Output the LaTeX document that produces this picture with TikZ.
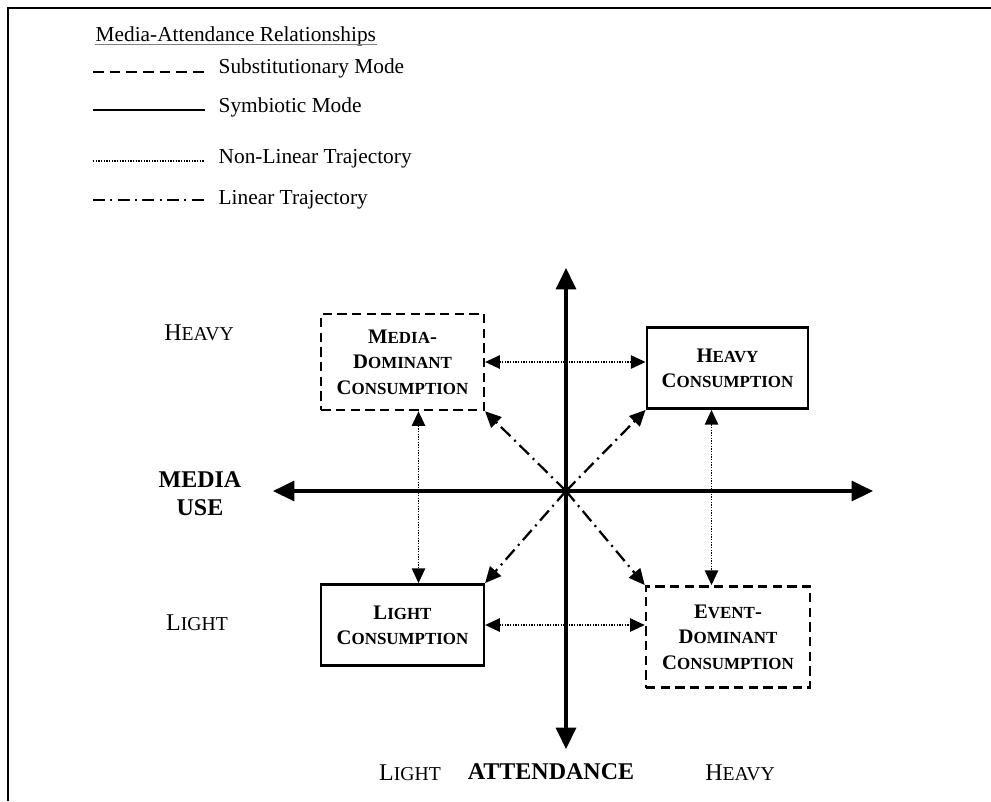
\documentclass[tikz,border=0pt]{standalone}
\usepackage{fontspec}
\setmainfont{Liberation Serif}
\usepackage{tikz}
\usetikzlibrary{arrows.meta}

% fake small capitals: first letter full size, the rest smaller
\makeatletter
\newcommand\fsc[2]{#1{\fontsize{\fpeval{0.82*\f@size}}{\f@baselineskip}\selectfont #2}}
\makeatother

\begin{document}
\begin{tikzpicture}[x=0.75pt,y=-0.75pt,
    quad/.style={draw, line width=1.9pt, align=center, inner sep=2pt,
      font=\fontsize{15.5}{19}\selectfont\bfseries},
    subst/.style={quad, dash pattern=on 7pt off 4pt},
    symb/.style={quad},
    axis/.style={line width=2.5pt, -{Triangle[length=16pt,width=15pt]}},
    nonlin/.style={line width=1.1pt, dash pattern=on 1pt off 1pt,
      {Triangle[length=11pt,width=10pt]}-{Triangle[length=11pt,width=10pt]}},
    lin/.style={line width=1.7pt, dash pattern=on 10pt off 4pt on 1.5pt off 4pt,
      -{Triangle[length=12pt,width=11pt]}},
    lbl/.style={font=\fontsize{18}{21}\selectfont},
    legtxt/.style={anchor=west, font=\fontsize{16}{19}\selectfont}]
  \useasboundingbox (0,0) rectangle (991,801);

  % page edge
  \draw[line width=1.5pt] (8,801) -- (8,8) -- (991,8);

  % Legend
  \node[anchor=west, font=\fontsize{16}{19}\selectfont] (legtitle) at (91,36)
    {Media-Attendance Relationships};
  \draw[gray, line width=1.2pt] ([xshift=3pt,yshift=-6.5pt]legtitle.west) -- ([xshift=-3pt,yshift=-6.5pt]legtitle.east);
  \coordinate (la1) at (93,72);  \coordinate (lb1) at (207,72);
  \coordinate (la2) at (93,110); \coordinate (lb2) at (205,110);
  \coordinate (la3) at (93,161); \coordinate (lb3) at (204,161);
  \coordinate (la4) at (93,200); \coordinate (lb4) at (205,200);
  \draw[line width=1.4pt, dash pattern=on 8pt off 4.5pt] (la1) -- (lb1);
  \draw[line width=1.4pt] (la2) -- (lb2);
  \draw[line width=0.8pt, dash pattern=on 1pt off 1pt] (la3) -- (lb3);
  \draw[line width=1.4pt, dash pattern=on 9pt off 4pt on 1.5pt off 4pt] (la4) -- (lb4);
  \node[legtxt] (l1) at (214,68) {Substitutionary Mode};
  \node[legtxt] (l2) at (214,107) {Symbiotic Mode};
  \node[legtxt] (l3) at (214,159) {Non-Linear Trajectory};
  \node[legtxt] (l4) at (214,200) {Linear Trajectory};

  % Axes
  \coordinate (o) at (566,491);
  \coordinate (ytop) at (566,268);
  \coordinate (ybot) at (566,749);
  \coordinate (xleft) at (273,491);
  \coordinate (xright) at (873,491);
  \draw[axis] (o) -- (ytop);
  \draw[axis] (o) -- (ybot);
  \draw[axis] (o) -- (xleft);
  \draw[axis] (o) -- (xright);

  % Quadrant boxes
  \node[subst, minimum width=122pt, minimum height=72pt] (md) at (402.5,362)
    {\fsc{M}{EDIA}-\\\fsc{D}{OMINANT}\\\fsc{C}{ONSUMPTION}};
  \node[symb, minimum width=121pt, minimum height=61pt] (hv) at (727.5,368)
    {\fsc{H}{EAVY}\\\fsc{C}{ONSUMPTION}};
  \node[symb, minimum width=122pt, minimum height=61pt] (lt) at (402.5,625)
    {\fsc{L}{IGHT}\\\fsc{C}{ONSUMPTION}};
  \node[subst, minimum width=123pt, minimum height=76pt] (ev) at (728,637)
    {\fsc{E}{VENT}-\\\fsc{D}{OMINANT}\\\fsc{C}{ONSUMPTION}};

  % Non-linear trajectories
  \draw[nonlin] (md.east) -- (md.east -| hv.west);
  \draw[nonlin] (lt.east) -- (lt.east -| ev.west);
  \draw[nonlin] ([xshift=12pt]md.south) -- ([xshift=12pt]md.south |- lt.north);
  \draw[nonlin] ([xshift=-12pt]hv.south) -- ([xshift=-12pt]hv.south |- ev.north);

  % Linear trajectories
  \draw[lin] (o) -- (md.south east);
  \draw[lin] (o) -- (hv.south west);
  \draw[lin] (o) -- (lt.north east);
  \draw[lin] (o) -- (ev.north west);

  % Axis labels
  \node[lbl] (yheavy) at (199,333) {\fsc{H}{EAVY}};
  \node[lbl] (ylight) at (197,623) {\fsc{L}{IGHT}};
  \node[lbl, font=\fontsize{18}{21}\selectfont\bfseries, align=center] (ylab) at (200,494) {MEDIA\\USE};
  \node[lbl] (xlight) at (410,773) {\fsc{L}{IGHT}};
  \node[lbl, font=\fontsize{18}{21}\selectfont\bfseries] (xlab) at (551,772) {ATTENDANCE};
  \node[lbl] (xheavy) at (740,773) {\fsc{H}{EAVY}};
\end{tikzpicture}
\end{document}
